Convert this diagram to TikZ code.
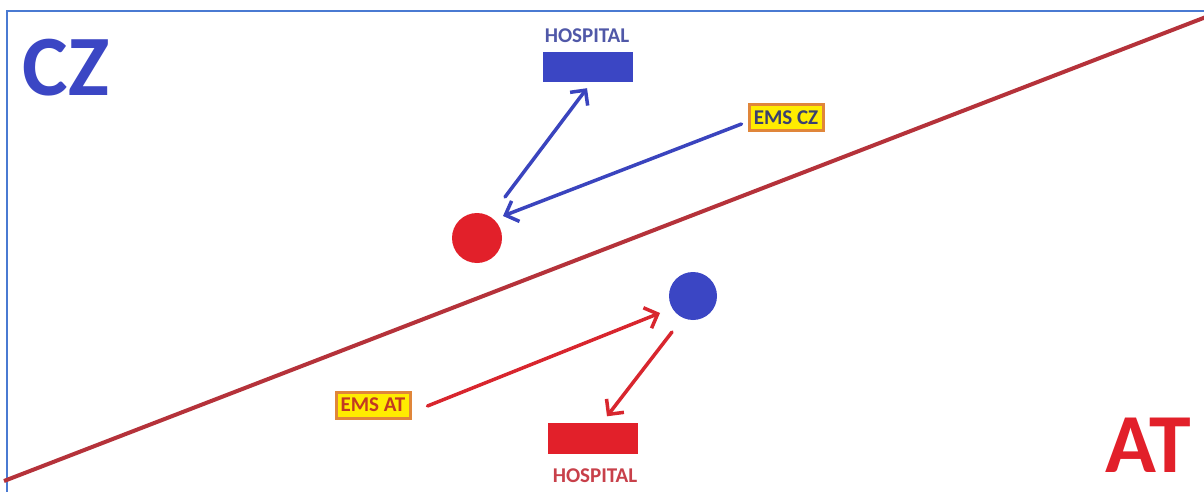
\documentclass[tikz,border=0pt]{standalone}
\usepackage{fontspec}
\setmainfont{Carlito}
\usetikzlibrary{arrows.meta}
\definecolor{czblue}{HTML}{3B46C4}
\definecolor{atred}{HTML}{E2202A}
\definecolor{border}{HTML}{4A7AD2}
\definecolor{lineRed}{HTML}{B5323A}
\definecolor{arrBlue}{HTML}{3A44BE}
\definecolor{arrRed}{HTML}{D8262E}
\definecolor{hospBlueTxt}{HTML}{5058A8}
\definecolor{hospRedTxt}{HTML}{C8404A}
\definecolor{emsFill}{HTML}{FFEC00}
\definecolor{emsBorder}{HTML}{E0863A}
\definecolor{emsCzTxt}{HTML}{3A4070}
\definecolor{emsAtTxt}{HTML}{C23A22}
\tikzset{
  bigtxt/.style={font=\fontsize{86}{86}\selectfont\bfseries, inner sep=0pt},
  hosptxt/.style={font=\fontsize{21}{21}\selectfont\bfseries, inner sep=0pt},
  emsbox/.style={draw=emsBorder, line width=3pt, fill=emsFill, font=\fontsize{21}{21}\selectfont\bfseries, minimum width=74pt, minimum height=26pt, inner sep=2pt},
  arr/.style={line width=3.5pt, line cap=round, -{Straight Barb[length=11pt,width=22pt,line width=3.5pt]}},
}
\begin{document}
\begin{tikzpicture}[x=1pt,y=-1pt]
\useasboundingbox (0,0) rectangle (1204,492);
\fill[white] (0,0) rectangle (1204,492);
% frame
\draw[border, line width=2.5pt] (7,492) -- (7,11) -- (1204,11);
% border line
\coordinate (lA) at (4,481);
\coordinate (lB) at (1206,17);
\draw[lineRed, line width=4pt] (lA) -- (lB);
% country labels
\node[bigtxt, text=czblue] (cz) at (66,68) {CZ};
\node[bigtxt, text=atred, font=\fontsize{84}{84}\selectfont\bfseries] (at) at (1148,445) {AT};
% hospitals
\node[hosptxt, text=hospBlueTxt] (hczt) at (587,36) {HOSPITAL};
\node[fill=czblue, minimum width=90pt, minimum height=30pt, inner sep=0pt] (hcz) at (588,67) {};
\node[fill=atred, minimum width=90pt, minimum height=31pt, inner sep=0pt] (hat) at (593,438) {};
\node[hosptxt, text=hospRedTxt] (hatt) at (595,476) {HOSPITAL};
% EMS boxes
\node[emsbox, text=emsCzTxt] (emscz) at (786,118) {EMS CZ};
\node[emsbox, text=emsAtTxt] (emsat) at (373,405) {EMS AT};
% patients
\node[circle, fill=atred, minimum size=50pt, inner sep=0pt] (pr) at (477,238) {};
\node[circle, fill=czblue, minimum size=48pt, inner sep=0pt] (pb) at (693,296) {};
% arrows
\draw[arr, arrBlue] (pr) ++(28,-41) coordinate (s1) (s1) -- ([shift={(-1,6)}]hcz.south);
\draw[arr, arrBlue] (emscz.west) ++(-6,6) coordinate (s2) (s2) -- ([shift={(26,-22)}]pr.center);
\draw[arr, arrRed] (emsat.east) ++(16,1) coordinate (s3) (s3) -- ([shift={(-33,17)}]pb.center);
\draw[arr, arrRed] (pb) ++(-21,36) coordinate (s4) (s4) -- ([shift={(14,-6)}]hat.north);
\end{tikzpicture}
\end{document}
